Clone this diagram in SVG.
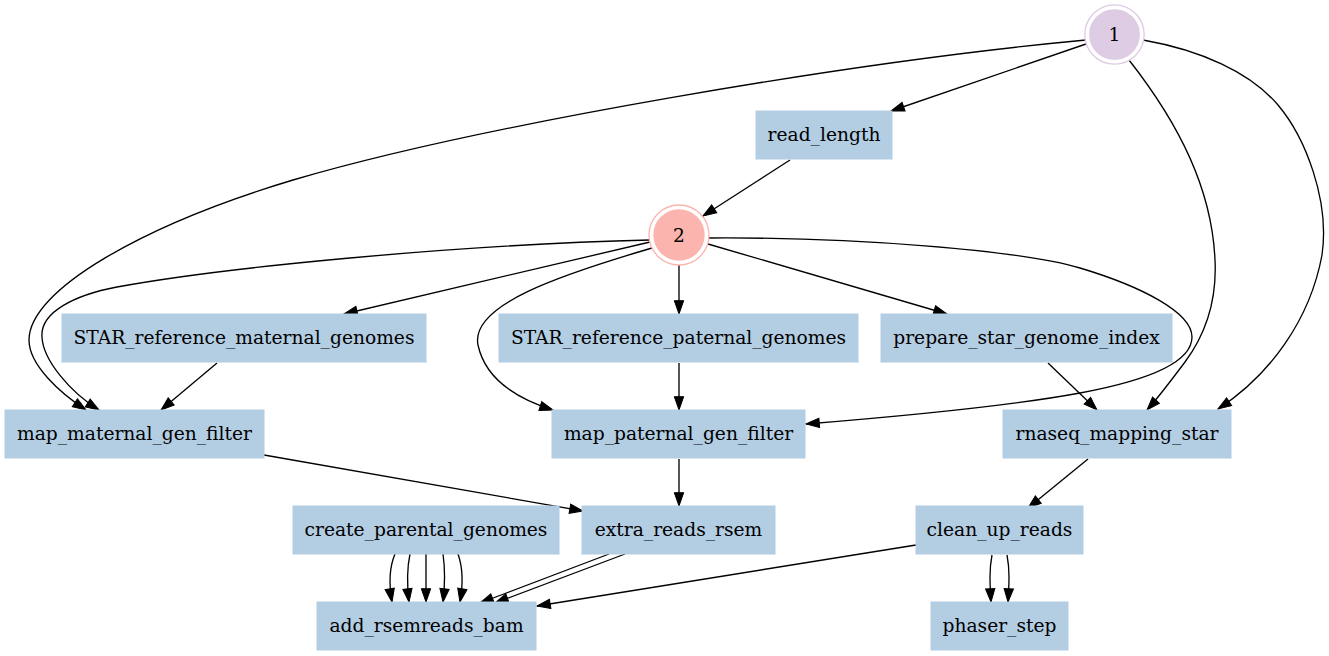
<svg xmlns="http://www.w3.org/2000/svg" width="1329" height="656" viewBox="0 0 1329 656">
<style>
.box{fill:#b3cde3;stroke:#b3cde3;stroke-width:1}
.lbl{font-family:"DejaVu Serif","Liberation Serif",serif;font-size:18.67px;fill:#000;text-anchor:middle}
.e{fill:none;stroke:#000;stroke-width:1.33;marker-end:url(#ah)}
</style>
<defs>
<marker id="ah" markerWidth="15" markerHeight="11" refX="13.3" refY="5" orient="auto" markerUnits="userSpaceOnUse" viewBox="0 0 15 10" overflow="visible">
<path d="M0,0.33 L13.3,5 L0,9.67 z" fill="#000" stroke="#000" stroke-width="1"/>
</marker>
</defs>
<rect width="1329" height="656" fill="#fff"/>
<g id="connectors">
<path class="e" d="M1086,44 L891,111"/>
<path class="e" d="M1086,40 C850,62 480,125 293,180 C143,225 29,290 29,340 C29,365 60,393 86,410"/>
<path class="e" d="M650,240 C450,245 220,268 117,287 C75,295 40,312 42,337 C43,360 70,392 99,410"/>
<path class="e" d="M1129,60 C1180,125 1212,190 1215,260 C1217,300 1205,335 1185,362 C1170,382 1158,398 1147,410"/>
<path class="e" d="M1143,40 C1200,50 1250,72 1278,105 C1305,137 1330,200 1322,255 C1310,320 1270,375 1218,409"/>
<path class="e" d="M790,160 L703,216"/>
<path class="e" d="M650,242 L344,314"/>
<path class="e" d="M652,248 C560,275 470,305 478,345 C485,378 515,398 553,410"/>
<path class="e" d="M679,265 L679,314"/>
<path class="e" d="M708,244 L947,314"/>
<path class="e" d="M709,238 C850,237 1020,250 1080,268 C1140,286 1192,312 1192,337 C1192,362 1150,380 1080,393 C1010,406 880,418 806,424"/>
<path class="e" d="M217,363 L161,410"/>
<path class="e" d="M679,363 L679,410"/>
<path class="e" d="M1048,363 L1097,410"/>
<path class="e" d="M264,455 L583,511"/>
<path class="e" d="M679,459 L679,506"/>
<path class="e" d="M1088,459 L1028,508"/>
<path class="e" d="M395,554 C389,568 389,585 392,602"/>
<path class="e" d="M410,554 C407,568 407,585 409,602"/>
<path class="e" d="M426,554 L426,602"/>
<path class="e" d="M443,554 C445,568 445,585 443,602"/>
<path class="e" d="M458,554 C463,568 463,585 460,602"/>
<path class="e" d="M609,554 L480,603"/>
<path class="e" d="M625,554 L495,603"/>
<path class="e" d="M916,545 L537,606"/>
<path class="e" d="M992,555 C989,570 990,585 991,602"/>
<path class="e" d="M1007,555 C1010,570 1009,585 1008,602"/>
</g>
<g id="n1">
<circle cx="1114.5" cy="34.5" r="29.7" fill="none" stroke="#decbe4" stroke-width="1.33"/>
<circle cx="1114.5" cy="34.5" r="24.7" fill="#decbe4" stroke="#decbe4" stroke-width="1.33"/>
<text class="lbl" x="1114.5" y="41">1</text>
</g>
<g id="n2">
<circle cx="679" cy="235" r="30" fill="none" stroke="#fbb4ae" stroke-width="1.33"/>
<circle cx="679" cy="235" r="25" fill="#fbb4ae" stroke="#fbb4ae" stroke-width="1.33"/>
<text class="lbl" x="679" y="241.5">2</text>
</g>
<g id="read_length"><rect class="box" x="756" y="111" width="136" height="48"/><text class="lbl" x="824" y="141">read_length</text></g>
<g id="STAR_reference_maternal_genomes"><rect class="box" x="62" y="314" width="364" height="48"/><text class="lbl" x="244" y="344">STAR_reference_maternal_genomes</text></g>
<g id="STAR_reference_paternal_genomes"><rect class="box" x="499" y="314" width="359" height="48"/><text class="lbl" x="678.5" y="344">STAR_reference_paternal_genomes</text></g>
<g id="prepare_star_genome_index"><rect class="box" x="881" y="314" width="291" height="48"/><text class="lbl" x="1026.5" y="344">prepare_star_genome_index</text></g>
<g id="map_maternal_gen_filter"><rect class="box" x="5" y="410" width="259" height="48"/><text class="lbl" x="134.5" y="440">map_maternal_gen_filter</text></g>
<g id="map_paternal_gen_filter"><rect class="box" x="552" y="410" width="253" height="48"/><text class="lbl" x="678.5" y="440">map_paternal_gen_filter</text></g>
<g id="rnaseq_mapping_star"><rect class="box" x="1003" y="410" width="228" height="48"/><text class="lbl" x="1117" y="440">rnaseq_mapping_star</text></g>
<g id="create_parental_genomes"><rect class="box" x="293" y="506" width="266" height="48"/><text class="lbl" x="426" y="536">create_parental_genomes</text></g>
<g id="extra_reads_rsem"><rect class="box" x="582" y="506" width="193" height="48"/><text class="lbl" x="678.5" y="536">extra_reads_rsem</text></g>
<g id="clean_up_reads"><rect class="box" x="916" y="506" width="167" height="48"/><text class="lbl" x="999.5" y="536">clean_up_reads</text></g>
<g id="add_rsemreads_bam"><rect class="box" x="317" y="602" width="219" height="48"/><text class="lbl" x="426.5" y="632">add_rsemreads_bam</text></g>
<g id="phaser_step"><rect class="box" x="931" y="602" width="137" height="48"/><text class="lbl" x="999.5" y="632">phaser_step</text></g>
</svg>
